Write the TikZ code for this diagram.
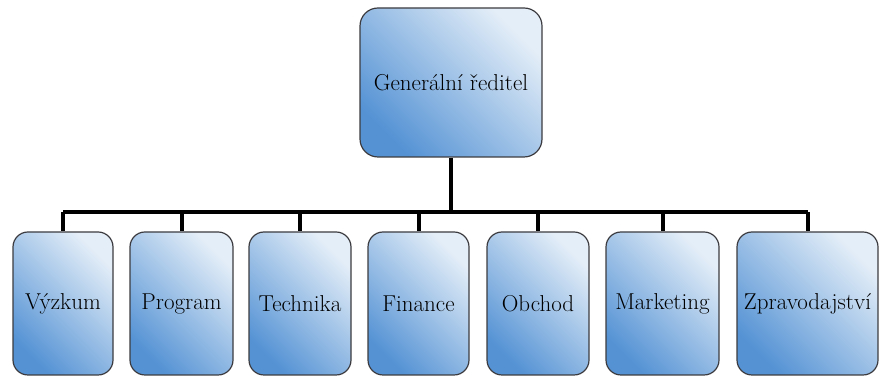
\documentclass[tikz,border=0pt]{standalone}
\usepackage{xcolor}
\definecolor{boxdark}{RGB}{84,146,212}
\definecolor{boxlight}{RGB}{228,238,248}
\definecolor{boxline}{RGB}{60,60,64}

\begin{document}
\begin{tikzpicture}[x=1pt,y=1pt,
  box/.style={draw=boxline,line width=1.2pt,rounded corners=15pt,
    top color=boxlight,bottom color=boxdark,shading angle=-45,
    minimum height=143pt,inner sep=2pt,text=black,
    font=\fontsize{23}{27}\selectfont},
  conn/.style={line width=4pt,line join=miter}]
\useasboundingbox (0,0) rectangle (879,377);
%
\node[box,rounded corners=18pt,minimum width=182pt,minimum height=149pt] (boss) at (451,294.5) {Generální ředitel};
%
\node[box,minimum width=100pt] (vyzkum) at (63,73.5) {Výzkum};
\node[box,minimum width=103pt] (program) at (181.5,73.5) {Program};
\node[box,minimum width=102pt] (technika) at (300,73.5) {Technika};
\node[box,minimum width=101pt] (finance) at (418.5,73.5) {Finance};
\node[box,minimum width=102pt] (obchod) at (538,73.5) {Obchod};
\node[box,minimum width=113pt] (marketing) at (662.5,73.5) {Marketing};
\node[box,minimum width=141pt] (zprav) at (807.5,73.5) {Zpravodajství};
%
\coordinate (bar) at (0,165);
\draw[conn] (boss.south) -- (boss.south |- bar);
\draw[conn] (vyzkum.north |- bar) -- (zprav.north |- bar);
\foreach \n in {vyzkum,program,technika,finance,obchod,marketing,zprav}
  \draw[conn] (\n.north |- bar) -- (\n.north);
\end{tikzpicture}
\end{document}
